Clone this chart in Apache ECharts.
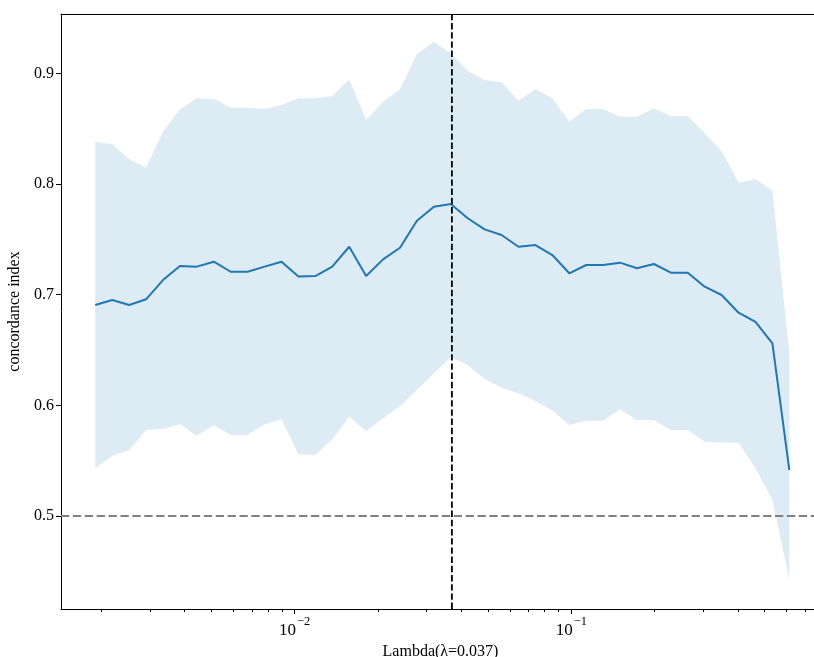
<!DOCTYPE html>
<html><head><meta charset="utf-8">
<script src="https://cdn.jsdelivr.net/npm/echarts@6/dist/echarts.min.js"></script>
<style>html,body{margin:0;padding:0;background:#fff}#c{width:814px;height:657px}</style>
</head><body><div id="c"></div>
<script>
// ---- data ----
const lambdas = [0.001901,0.002189,0.002520,0.002901,0.003340,0.003846,0.004428,0.005098,0.005869,0.006757,
  0.007780,0.008957,0.010313,0.011873,0.013669,0.015740,0.018120,0.020863,0.024020,0.027654,
  0.031842,0.036660,0.042207,0.048594,0.055948,0.064417,0.074164,0.085387,0.098310,0.11319,
  0.13032,0.15004,0.17275,0.19890,0.22900,0.26363,0.30353,0.34946,0.40235,0.46324,0.53333,0.61404];
const meanCI = [0.6906,0.6952,0.6906,0.6958,0.7132,0.7259,0.7253,0.7298,0.7207,0.7207,
  0.7253,0.7298,0.7165,0.7168,0.7253,0.7433,0.7168,0.7319,0.7424,0.7668,
  0.7795,0.7819,0.7690,0.7590,0.7539,0.7433,0.7448,0.7358,0.7193,0.7268,
  0.7268,0.7289,0.7238,0.7277,0.7198,0.7198,0.7072,0.6997,0.6837,0.6755,0.6560,0.5415];
const upperCI = [0.8382,0.8358,0.8223,0.8147,0.8472,0.8675,0.8774,0.8768,0.8689,0.8689,
  0.8677,0.8714,0.8774,0.8774,0.8795,0.8946,0.8578,0.8743,0.8855,0.9174,
  0.9286,0.9181,0.9021,0.8940,0.8919,0.8750,0.8855,0.8774,0.8563,0.8677,
  0.8677,0.8608,0.8608,0.8684,0.8614,0.8614,0.8458,0.8298,0.8011,0.8045,0.7939,0.6470];
const lowerCI = [0.5431,0.5545,0.5596,0.5777,0.5786,0.5828,0.5725,0.5819,0.5732,0.5732,
  0.5828,0.5874,0.5559,0.5552,0.5693,0.5897,0.5768,0.5883,0.5994,0.6138,
  0.6289,0.6434,0.6364,0.6238,0.6159,0.6108,0.6039,0.5953,0.5822,0.5861,
  0.5861,0.5964,0.5867,0.5867,0.5777,0.5777,0.5671,0.5665,0.5662,0.5431,0.5145,0.4421];
const bestLambda = 0.037;
const chanceLevel = 0.5;
const xMajorTicks = [0.01, 0.1];
const xMinorTicks = [0.002,0.003,0.004,0.005,0.006,0.007,0.008,0.009,
  0.02,0.03,0.04,0.05,0.06,0.07,0.08,0.09,0.2,0.3,0.4,0.5,0.6,0.7];
const yTicks = [0.5, 0.6, 0.7, 0.8, 0.9];
const xName = 'Lambda(λ=0.037)';
const yName = 'concordance index';

// ---- chart ----
const FONT = 'Liberation Serif';
const X_MIN = 0.001429, X_MAX = 0.7926;
const Y_MIN = 0.41597, Y_MAX = 0.95358;

const bandData = lambdas.map((x, i) => [x, lowerCI[i], upperCI[i]]);
const meanData = lambdas.map((x, i) => [x, meanCI[i]]);
const vLineData = [[bestLambda, Y_MIN], [bestLambda, Y_MAX]];
const hLineData = [[X_MIN, chanceLevel], [X_MAX, chanceLevel]];

const chart = echarts.init(document.getElementById('c'), null, {renderer: 'canvas'});
const baseLog = {type: 'log', logBase: 10, min: X_MIN, max: X_MAX, gridIndex: 0, splitLine: {show: false}};
chart.setOption({
  animation: false,
  backgroundColor: '#fff',
  grid: {left: 61, right: -6, top: 14, bottom: 48, containLabel: false, outerBoundsMode: 'none'},
  xAxis: [
    Object.assign({}, baseLog, {
      position: 'bottom',
      name: xName, nameLocation: 'middle', nameGap: 26,
      nameTextStyle: {fontFamily: FONT, fontSize: 16, color: '#000'},
      axisLine: {show: true, onZero: false, lineStyle: {color: '#000', width: 1}},
      axisTick: {show: true, length: 5, customValues: xMajorTicks, lineStyle: {color: '#000', width: 1}},
      axisLabel: {
        show: true, customValues: xMajorTicks, margin: 6,
        formatter: v => {
          const e = Math.round(Math.log10(v));
          return '{b|10}{s|' + (e < 0 ? '\u2212' : '') + Math.abs(e) + '}';
        },
        rich: {
          b: {fontFamily: FONT, fontSize: 17, color: '#000', lineHeight: 24, verticalAlign: 'bottom'},
          s: {fontFamily: FONT, fontSize: 12.5, color: '#000', lineHeight: 12, verticalAlign: 'top', padding: [0, 0, 0, 1]}
        }
      }
    }),
    Object.assign({}, baseLog, {
      position: 'bottom',
      axisLine: {show: false, onZero: false},
      axisTick: {show: true, length: 3, customValues: xMinorTicks, lineStyle: {color: '#000', width: 1}},
      axisLabel: {show: false}
    }),
    Object.assign({}, baseLog, {
      position: 'top',
      axisLine: {show: true, onZero: false, lineStyle: {color: '#000', width: 1}},
      axisTick: {show: false},
      axisLabel: {show: false}
    })
  ],
  yAxis: {
    type: 'value', min: Y_MIN, max: Y_MAX,
    name: yName, nameLocation: 'middle', nameGap: 33,
    nameTextStyle: {fontFamily: FONT, fontSize: 16, color: '#000'},
    splitLine: {show: false},
    axisLine: {show: true, onZero: false, lineStyle: {color: '#000', width: 1}},
    axisTick: {show: true, length: 5, customValues: yTicks, lineStyle: {color: '#000', width: 1}},
    axisLabel: {show: true, customValues: yTicks, margin: 7, fontFamily: FONT, fontSize: 16, color: '#000',
      formatter: v => v.toFixed(1)}
  },
  series: [
    {
      type: 'custom',
      name: 'band',
      xAxisIndex: 0, yAxisIndex: 0,
      data: bandData,
      encode: {x: 0, y: [1, 2]},
      silent: true,
      renderItem: function (params, api) {
        if (params.dataIndex !== 0) return null;
        const pts = [];
        for (let i = 0; i < bandData.length; i++) pts.push(api.coord([bandData[i][0], bandData[i][2]]));
        for (let i = bandData.length - 1; i >= 0; i--) pts.push(api.coord([bandData[i][0], bandData[i][1]]));
        return {type: 'polygon', shape: {points: pts}, style: {fill: '#ddebf4', stroke: null}};
      },
      z: 1
    },
    {
      type: 'line',
      name: 'mean',
      xAxisIndex: 0, yAxisIndex: 0,
      data: meanData,
      showSymbol: false, symbol: 'none',
      lineStyle: {color: '#1f77b4', width: 2},
      z: 3
    },
    {
      type: 'line', name: 'best lambda',
      xAxisIndex: 0, yAxisIndex: 0,
      data: vLineData, showSymbol: false, symbol: 'none', silent: true,
      lineStyle: {color: '#000', width: 1.8, type: [6.4, 2.8]},
      z: 4
    },
    {
      type: 'line', name: 'chance',
      xAxisIndex: 0, yAxisIndex: 0,
      data: hLineData, showSymbol: false, symbol: 'none', silent: true,
      lineStyle: {color: '#808080', width: 2, type: [8.3, 3.6]},
      z: 4
    }
  ]
});
</script>
</body></html>
